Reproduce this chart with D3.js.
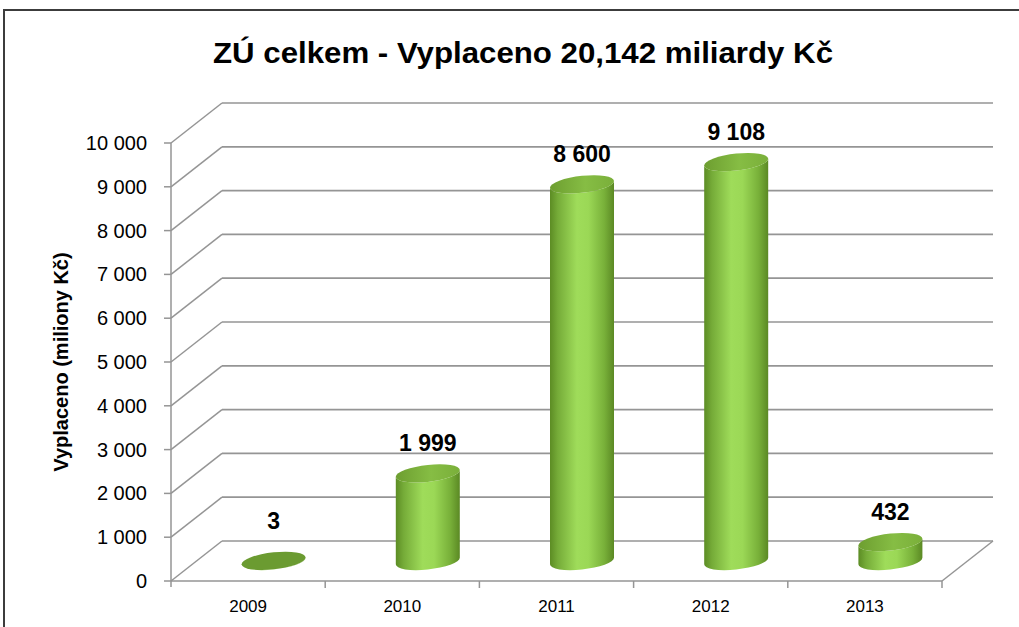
<!DOCTYPE html>
<html>
<head>
<meta charset="utf-8">
<script src="https://cdn.jsdelivr.net/npm/d3@7"></script>
<style>
  body { margin: 0; background: #fff; }
  text { font-family: "Liberation Sans", Arial, sans-serif; fill: #000; }
</style>
</head>
<body>
<div class="chart"></div>
<script>
var svgWidth = 1019;
var svgHeight = 627;

// data
var years = ["2009", "2010", "2011", "2012", "2013"];
var values = [3, 1999, 8600, 9108, 432];
var valueLabels = ["3", "1 999", "8 600", "9 108", "432"];
var yTicks = [0, 1000, 2000, 3000, 4000, 5000, 6000, 7000, 8000, 9000, 10000];
var yTickLabels = ["0", "1 000", "2 000", "3 000", "4 000", "5 000", "6 000", "7 000", "8 000", "9 000", "10 000"];

// plot box (front plane) and 3d depth offset
var plot = { left: 171, right: 942, top: 143, bottom: 581 };
var depthX = 51, depthY = -40;

var svg = d3.select(".chart")
  .append("svg")
  .attr("width", svgWidth)
  .attr("height", svgHeight);

// outer chart border (continues past the picture)
svg.append("path")
  .attr("d", "M4,640 V10 H1030")
  .attr("fill", "none")
  .attr("stroke", "#3c3c3c")
  .attr("stroke-width", 2);

var xScale = d3.scaleBand()
  .domain(years)
  .range([plot.left, plot.right]);

var yScale = d3.scaleLinear()
  .domain([0, 10000])
  .range([plot.bottom, plot.top]);

var gridColor = "#959595";

// gradients for the cylinders
var defs = svg.append("defs");
var bodyGrad = defs.append("linearGradient")
  .attr("id", "bodyGrad")
  .attr("x1", "0%").attr("x2", "100%").attr("y1", "0%").attr("y2", "0%");
[[0, "#5c8c24"], [0.12, "#75ab38"], [0.42, "#9fdc5a"], [0.6, "#9bd856"], [0.85, "#78b039"], [1, "#5b8924"]]
  .forEach(function (s) {
    bodyGrad.append("stop").attr("offset", s[0]).attr("stop-color", s[1]);
  });
var topGrad = defs.append("linearGradient")
  .attr("id", "topGrad")
  .attr("x1", "0%").attr("x2", "100%").attr("y1", "0%").attr("y2", "0%");
[[0, "#6d9e30"], [0.55, "#86bd44"], [1, "#7aaf3a"]]
  .forEach(function (s) {
    topGrad.append("stop").attr("offset", s[0]).attr("stop-color", s[1]);
  });

// back wall gridlines + left wall diagonals
var grid = svg.append("g");
grid.selectAll(".back")
  .data(yTicks)
  .enter()
  .append("line")
  .attr("x1", plot.left + depthX)
  .attr("x2", plot.right + depthX)
  .attr("y1", d => yScale(d) + depthY)
  .attr("y2", d => yScale(d) + depthY)
  .attr("stroke", gridColor)
  .attr("stroke-width", 1.7);

grid.selectAll(".side")
  .data(yTicks)
  .enter()
  .append("line")
  .attr("x1", plot.left)
  .attr("x2", plot.left + depthX)
  .attr("y1", d => yScale(d))
  .attr("y2", d => yScale(d) + depthY)
  .attr("stroke", gridColor)
  .attr("stroke-width", 1.5);

// floor front edge and right edge
grid.append("line")
  .attr("x1", plot.left).attr("x2", plot.right)
  .attr("y1", yScale(0)).attr("y2", yScale(0))
  .attr("stroke", gridColor).attr("stroke-width", 1.7);
grid.append("line")
  .attr("x1", plot.right).attr("x2", plot.right + depthX)
  .attr("y1", yScale(0)).attr("y2", yScale(0) + depthY)
  .attr("stroke", gridColor).attr("stroke-width", 1.5);

// y axis line and ticks
grid.append("line")
  .attr("x1", plot.left).attr("x2", plot.left)
  .attr("y1", yScale(10000)).attr("y2", yScale(0) + 6)
  .attr("stroke", gridColor).attr("stroke-width", 1.5);
grid.selectAll(".ytick")
  .data(yTicks)
  .enter()
  .append("line")
  .attr("x1", plot.left - 7).attr("x2", plot.left)
  .attr("y1", d => yScale(d)).attr("y2", d => yScale(d))
  .attr("stroke", gridColor).attr("stroke-width", 1.5);

// category ticks
var bounds = years.map(d => xScale(d) + xScale.bandwidth());
grid.selectAll(".xtick")
  .data(bounds)
  .enter()
  .append("line")
  .attr("x1", d => d).attr("x2", d => d)
  .attr("y1", yScale(0)).attr("y2", yScale(0) + 7)
  .attr("stroke", gridColor).attr("stroke-width", 1.5);

// y tick labels
svg.append("g").selectAll("text")
  .data(yTicks)
  .enter()
  .append("text")
  .attr("x", 147)
  .attr("y", d => yScale(d) + 7)
  .attr("text-anchor", "end")
  .style("font-size", "20px")
  .text((d, i) => yTickLabels[i]);

// category labels
svg.append("g").selectAll("text")
  .data(years)
  .enter()
  .append("text")
  .attr("x", d => xScale(d) + xScale.bandwidth() / 2)
  .attr("y", 612)
  .attr("text-anchor", "middle")
  .style("font-size", "17px")
  .text(d => d);

// cylinders
var rx = 32, ry = 8.5;
var cylinders = svg.append("g").selectAll("g")
  .data(years)
  .enter()
  .append("g")
  .attr("transform", function (d) {
    var cx = xScale(d) + xScale.bandwidth() / 2 + depthX / 2;
    return "translate(" + cx + ",0) skewY(-6)";
  });

cylinders.append("path")
  .attr("d", function (d, i) {
    var yb = yScale(0) + depthY / 2;
    var yt = yScale(values[i]) + depthY / 2;
    return "M" + (-rx) + "," + yt + " V" + yb +
      " A" + rx + "," + ry + " 0 0 0 " + rx + "," + yb +
      " V" + yt +
      " A" + rx + "," + ry + " 0 0 1 " + (-rx) + "," + yt + " Z";
  })
  .attr("fill", "url(#bodyGrad)");

cylinders.append("ellipse")
  .attr("cx", 0)
  .attr("cy", (d, i) => yScale(values[i]) + depthY / 2)
  .attr("rx", rx)
  .attr("ry", ry)
  .attr("fill", (d, i) => values[i] < 100 ? "#6b9b31" : "url(#topGrad)");

// value labels
svg.append("g").selectAll("text")
  .data(years)
  .enter()
  .append("text")
  .attr("x", d => xScale(d) + xScale.bandwidth() / 2 + depthX / 2)
  .attr("y", (d, i) => yScale(values[i]) + depthY / 2 - (values[i] < 100 ? 32 : 22))
  .attr("text-anchor", "middle")
  .style("font-size", "23px")
  .style("font-weight", "bold")
  .text((d, i) => valueLabels[i]);

// y axis title
svg.append("text")
  .attr("transform", "translate(68,362) rotate(-90)")
  .attr("text-anchor", "middle")
  .style("font-size", "20px")
  .style("font-weight", "bold")
  .text("Vyplaceno (miliony Kč)");

// chart title
svg.append("text")
  .attr("x", 523)
  .attr("y", 63)
  .attr("text-anchor", "middle")
  .attr("textLength", 620)
  .attr("lengthAdjust", "spacingAndGlyphs")
  .style("font-size", "30px")
  .style("font-weight", "bold")
  .text("ZÚ celkem - Vyplaceno 20,142 miliardy Kč");
</script>
</body>
</html>
